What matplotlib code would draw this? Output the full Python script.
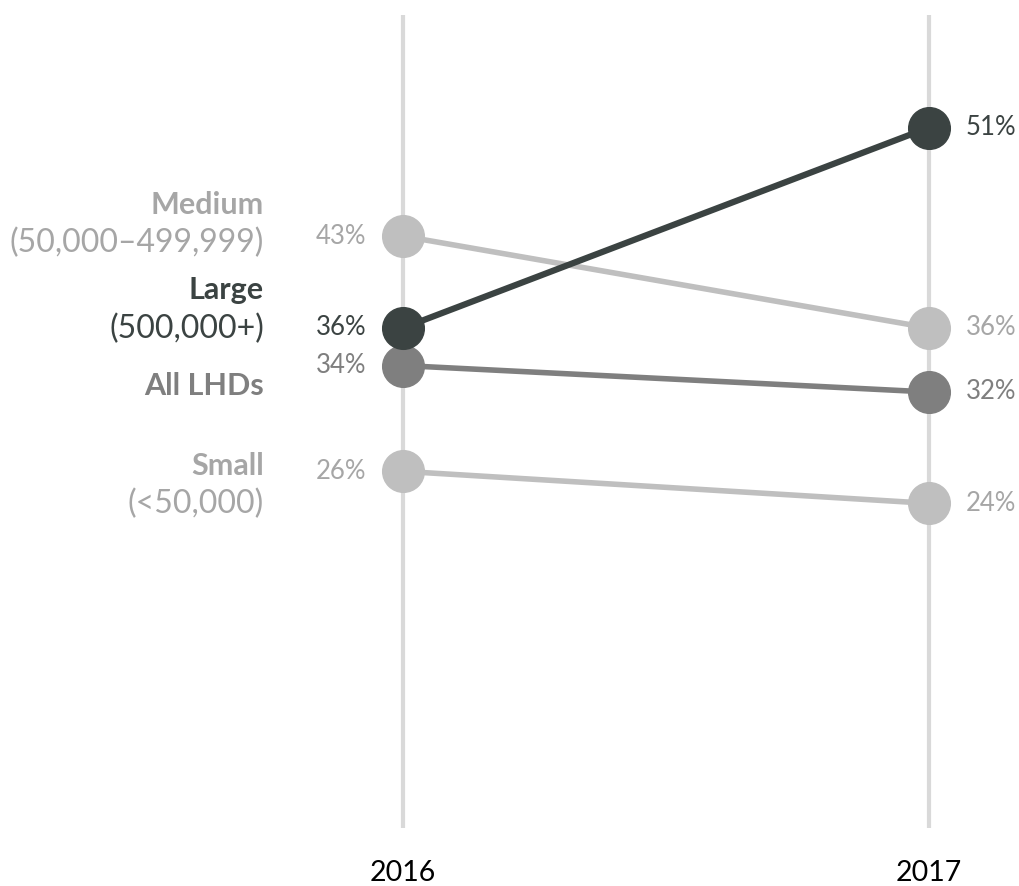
import matplotlib
matplotlib.use("Agg")
import matplotlib.pyplot as plt

years = ["2016", "2017"]
series = ["Medium", "Large", "All LHDs", "Small"]
subtitles = ["(50,000\u2013499,999)", "(500,000+)", "", "(<50,000)"]
values_2016 = [43.0, 36.4, 33.7, 26.1]
values_2017 = [36.4, 50.8, 31.8, 23.8]

colors = {"Medium": "#bfbfbf", "Large": "#3b4342", "All LHDs": "#7f7f7f", "Small": "#bfbfbf"}
text_colors = {"Medium": "#a6a6a6", "Large": "#3b4342", "All LHDs": "#7f7f7f", "Small": "#a6a6a6"}
lw = {"Medium": 4.0, "Large": 4.5, "All LHDs": 4.0, "Small": 4.0}
zorder = {"Medium": 3, "Large": 6, "All LHDs": 5, "Small": 3}

plt.rcParams['font.family'] = ['Lato', 'DejaVu Sans']

W, H = 1020, 886
fig = plt.figure(figsize=(W / 100, H / 100), dpi=100)
ax = fig.add_axes([0, 0, 1, 1])
ax.set_xlim(-0.766, 1.173)
ax.set_ylim(-3.69, 59.96)
ax.axis("off")

xs = [0, 1]
for x in xs:
    ax.plot([x, x], [0.5, 58.9], color="#d9d9d9", lw=3, zorder=1, solid_capstyle="butt")

for name, v0, v1 in zip(series, values_2016, values_2017):
    ax.plot(xs, [v0, v1], color=colors[name], lw=lw[name], marker="o", markersize=30,
            zorder=zorder[name], solid_capstyle="butt")
    ax.text(-0.07, v0, f"{round(v0)}%", ha="right", va="center", fontsize=18.5,
            color=text_colors[name])
    ax.text(1.07, v1, f"{round(v1)}%", ha="left", va="center", fontsize=18.5,
            color=text_colors[name])

# category labels (pixel positions of label lines)
label_pos = {"Medium": (205, 243), "Large": (290, 329), "All LHDs": (386, None), "Small": (466, 504)}
for name, sub in zip(series, subtitles):
    y1, y2 = label_pos[name]
    fig.text(264 / W, 1 - y1 / H, name, ha="right", va="center", fontsize=22,
             fontweight="bold", color=text_colors[name])
    if sub:
        fig.text(264 / W, 1 - y2 / H, sub, ha="right", va="center", fontsize=23,
                 color=text_colors[name])

for x, yr in zip(xs, years):
    ax.text(x, -2.76, yr, ha="center", va="center", fontsize=20.5, color="#000000")

fig.savefig("out.png", dpi=100, facecolor="white")
